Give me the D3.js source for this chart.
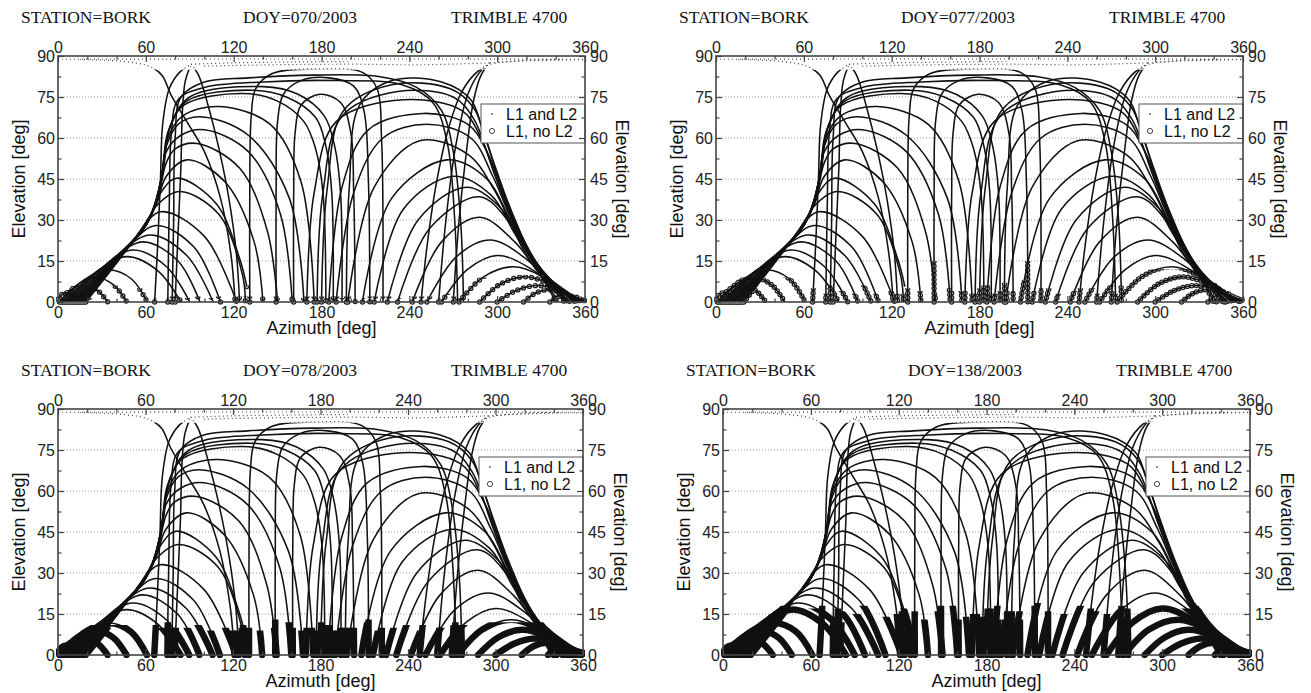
<!DOCTYPE html>
<html><head><meta charset="utf-8">
<script src="https://cdn.jsdelivr.net/npm/d3@7"></script>
<style>body{margin:0;background:#fff}svg{display:block}</style>
</head><body>
<svg id="c" width="1311" height="693"></svg>
<script>
// ---------- data ----------
const station = "STATION=BORK";
const receiver = "TRIMBLE 4700";
const doys = ["070/2003", "077/2003", "078/2003", "138/2003"];
const legendLabels = ["L1 and L2", "L1, no L2"];
const azTicks = [0, 60, 120, 180, 240, 300, 360];
const azMinorTicks = [20, 40, 80, 100, 140, 160, 200, 220, 260, 280, 320, 340];
const elTicks = [0, 15, 30, 45, 60, 75, 90];
const elMinorTicks = [7.5, 22.5, 37.5, 52.5, 67.5, 82.5];

// satellite tracks, [azimuth, elevation] in degrees
const tracks = [
  [[0,1],[3,3],[6,3.5],[10,2.5],[14,0]],
  [[1,0],[8,4.2],[17,6],[27,4.2],[34,0]],
  [[2,0],[13,6.3],[26,9],[38,6.3],[47,0]],
  [[3,0],[18,8.2],[35,11.7],[50,8.5],[61,0]],
  [[4,0],[26,11],[47,16.6],[68,11.5],[84,0]],
  [[5,0],[30,12.5],[51,19],[74,13],[90,0]],
  [[6,0],[36,15],[58,22],[82,15],[97,0]],
  [[7,0],[40,17],[63,24.5],[88,17],[106,0]],
  [[8,0],[46,19.5],[67,28],[93,20],[111,0]],
  [[9,0],[52,23],[70,33],[100,24],[122,0]],
  [[10,0],[58,26.3],[67,35],[83,40.4],[110,32],[126,10],[128,0]],
  [[11,0],[60,28],[69,39],[81,45.3],[108,36],[124,16],[129,5.6]],
  [[12,0],[38,15.5],[58,26.3],[67.4,36],[74,46],[88,52],[114,44],[134,22],[140,0]],
  [[13,0],[40,16.3],[60,28],[69,40],[74,51],[80,56],[95,58],[124,49],[143,26],[150,0]],
  [[14,0],[42,17],[61,29],[70,43],[74,55],[84,61],[100,63],[130,55],[152,32],[160,0]],
  [[15,0],[44,18],[62,30],[70,44],[74,57],[82,65],[97,67.8],[130,61],[158,38],[168,0]],
  [[16,0],[46,19],[63,31],[71,46],[75,60],[85,68],[110,71.5],[145,65],[166,44],[175,0]],
  [[17,0],[47,19.5],[64,32],[71,47],[75,62],[86,72],[126,76.3],[150,73.5],[168,66],[176,56],[181,40],[183,0]],
  [[18,0],[48,20],[64.5,33],[71.5,48],[76,63],[88,73.5],[132,77.5],[156,75],[176,67.5],[183,57],[187,40],[188,0]],
  [[19,0],[48,20],[65,34],[72,49],[76.5,64],[90,75],[140,78.8],[164,76],[182,68],[189,57],[193,40],[194,0]],
  [[15,88.7],[45,88],[62,86.3],[71,83],[77,76],[88,66],[100,55],[111,38],[118,18],[121,0]],
  [[66,0],[68,20],[70,45],[71.5,65],[76,78],[83,84],[91,87]],
  [[80,0],[82,25],[84,50],[85,70],[87,81],[91,87]],
  [[91,87],[96,83],[103,71],[110,56],[117,37],[122,17],[124,0]],
  [[91,87],[120,87.5],[160,87.8],[200,88]],
  [[0,88.8],[90,88.9],[180,88.9],[270,88.9],[360,88.8]],
  [[100,86.3],[150,86.8],[200,87],[250,86.8],[295,87.5]],
  [[78,0],[79,30],[80,60],[84,75],[100,80.5],[130,82],[174,83],[220,82.4],[245,78.5],[262,70],[270,55],[275,30],[277,0]],
  [[75,0],[76,35],[77.5,62],[82,74],[100,78.5],[140,80.5],[190,81],[235,79.5],[256,73],[266,58],[271,30],[273,0]],
  [[131,0],[131,40],[132,68],[135,78],[146,83.5],[178,85.3],[208,84],[218,78],[221,60],[222,30],[222,0]],
  [[149,0],[149,40],[150,66],[154,76],[166,81],[185,82],[202,79],[209,70],[212,45],[213,0]],
  [[161,0],[161,40],[162,62],[166,72],[179,76],[193,73],[200,62],[202,40],[203,0]],
  [[336,0],[341,2.2],[347,3],[353,2],[359,0.5]],
  [[318,0],[326,3.2],[335,4.5],[345,3.2],[356,0.3]],
  [[300,0],[313,4.2],[327,6],[341,4.5],[355,0]],
  [[288,0],[302,6.5],[318,9.2],[334,7],[353,0]],
  [[274,0],[291,9.3],[311,12.9],[330,9.5],[352,0]],
  [[262,0],[280,12],[300,17],[322,12.5],[350,0]],
  [[252,0],[272,16.5],[295,22.7],[318,16.5],[348,0]],
  [[242,0],[262,22],[288,31],[312,22],[328,11],[346,0]],
  [[232,0],[254,27],[288,38.5],[310,28],[326,14],[344,2],[347,0]],
  [[225,0],[246,30],[279,42],[303,34],[318,19],[334,6],[340,0]],
  [[216,0],[236,34],[270,46],[296,39],[312,25],[330,10],[342,0]],
  [[208,0],[228,38],[265.5,52],[293,45],[309,30],[326,14],[345,2],[349,0]],
  [[198,0],[216,42],[247,59],[280,54],[298,41],[312,26],[330,11],[350,1.5],[354,0]],
  [[190,0],[202,40],[222,60],[252,65],[282,60],[297,46],[310,30],[328,13],[350,2],[356,0]],
  [[185,0],[194,42],[212,63],[249.6,69],[280,65],[293,55],[304,40],[318,22],[336,8],[358,0]],
  [[170,0],[175,40],[190,66],[236,74],[276,70],[289,60],[298,47],[310,31],[327,13],[350,3],[359,0]],
  [[177,0],[181,40],[194,68],[232,77],[270,75],[284,67],[293,55],[303,40],[318,21],[340,6],[359,0.5]],
  [[180,0],[184,42],[195,70],[228,79.5],[268,78],[284,71],[292,60],[301,45],[314,27],[333,10],[355,1],[360,0.5]],
  [[197,0],[199,42],[206,72],[228,81],[262,80.5],[282,74],[290,63],[299,49],[310,33],[326,15],[348,3],[360,0.8]],
  [[270,0],[274,30],[279,55],[284,74],[289,83],[295,87.5]],
  [[260,0],[265,30],[272,58],[280,76],[288,84],[295,87.5]],
  [[295,87.5],[320,88.2],[350,88.6],[360,88.7]],
  [[248,0],[252,20],[258,42],[266,62],[275,76],[284,83],[293,86.5],[315,88.3],[345,88.7]]
];

// highest elevation (deg) of the "L1, no L2" part of each track, one list per day
const noL2_070 = [4,5,6,5, 2,1.5,2,1.5,2,1.5, 2,6,2,1.5,2,1.5,2,1.5,2,1.5,
  2,1.5,2,2,0, 0,0, 2,1.5, 2,2,1.5,
  3,5,8,10,9,3,2, 2,1.5,2,2,1.5,2,2,1.5,2,1.5,2,2,
  2,1.5,0,2];
const noL2_077 = [6,7,9,9, 5,4,3,6,3,4, 3,6,4,3,5,4,3,6,3,4,
  3,5,4,3,0, 0,0, 6,3, 5,15,4,
  5,6,8,12,12,6,5, 4,3,5,4,8,4,3,6,4,3,5,7,
  4,3,0,5];
const noL2_078 = [8,10,11,11, 10,9,10,11,9,10, 10,11,9,10,12,9,10,11,9,10,
  9,11,10,9,0, 0,0, 10,12, 10,13,10,
  6,8,10,11,12,11,10, 9,11,10,9,12,10,9,11,10,9,12,10,
  11,10,0,11];
const noL2_138 = [10,13,16,18, 18,17,16,15,18,14, 15,17,13,16,18,14,15,17,13,16,
  15,18,12,16,0, 0,0, 17,14, 16,18,13,
  6,10,14,18,20,19,17, 16,18,15,14,19,16,13,18,15,14,17,16,
  18,15,0,17];
const noL2 = [noL2_070, noL2_077, noL2_078, noL2_138];

// ---------- layout ----------
const layout = [
  {x: 58, y: 56, w: 527, h: 246, mark: {type: "ring", gap: 6}},
  {x: 716, y: 56, w: 527, h: 246, mark: {type: "ring", gap: 4.5}},
  {x: 58, y: 409, w: 525, h: 246, mark: {type: "solid"}},
  {x: 723, y: 409, w: 527, h: 246, mark: {type: "solid"}}
];
const sans = "'Liberation Sans', Arial, sans-serif";
const serif = "'Liberation Serif', 'Times New Roman', serif";

const svg = d3.select("#c");
const line = d3.line().curve(d3.curveCatmullRom.alpha(0.5));

layout.forEach((L, pi) => {
  const x = d3.scaleLinear().domain([0, 360]).range([0, L.w]);
  const y = d3.scaleLinear().domain([0, 90]).range([L.h, 0]);
  const g = svg.append("g").attr("transform", `translate(${L.x},${L.y})`);
  const defs = g.append("defs");
  const id = "p" + pi;
  const pathD = t => line(t.map(d => [x(d[0]), y(d[1])]));

  defs.append("clipPath").attr("id", id + "hi").append("rect")
    .attr("x", 0).attr("y", 0).attr("width", L.w).attr("height", y(85));
  defs.append("clipPath").attr("id", id + "lo").append("rect")
    .attr("x", 0).attr("y", y(85)).attr("width", L.w).attr("height", L.h - y(85));

  // titles
  const tg = svg.append("g").attr("font-family", serif).attr("font-size", 17.5).attr("fill", "#111");
  tg.append("text").attr("x", L.x - 37).attr("y", L.y - 33).text(station);
  tg.append("text").attr("x", L.x + 185).attr("y", L.y - 33).text("DOY=" + doys[pi]);
  tg.append("text").attr("x", L.x + 393).attr("y", L.y - 33).text(receiver);

  // grid
  g.append("g").selectAll("line").data(elTicks.filter(v => v > 0 && v < 90)).join("line")
    .attr("x1", 0).attr("x2", L.w).attr("y1", d => y(d)).attr("y2", d => y(d))
    .attr("stroke", "#9a9a9a").attr("stroke-width", 1).attr("stroke-dasharray", "1,2");

  // L1-no-L2 segments
  const th = noL2[pi];
  tracks.forEach((t, i) => {
    if (!th[i]) return;
    defs.append("clipPath").attr("id", `${id}n${i}`).append("rect")
      .attr("x", -2).attr("y", y(th[i])).attr("width", L.w + 4).attr("height", L.h - y(th[i]) + 3);
  });
  const markLayer = (color, width, dash) => {
    const lg = g.append("g");
    tracks.forEach((t, i) => {
      if (!th[i]) return;
      const p = lg.append("path").attr("d", pathD(t)).attr("fill", "none")
        .attr("stroke", color).attr("stroke-width", width).attr("stroke-linecap", "round")
        .attr("stroke-linejoin", "round").attr("clip-path", `url(#${id}n${i})`);
      if (dash) p.attr("stroke-dasharray", dash);
    });
  };
  if (L.mark.type === "ring") {
    markLayer("#222", 5.4, "0," + L.mark.gap);
    markLayer("#fff", 2.8, "0," + L.mark.gap);
  } else {
    markLayer("#111", 6.5, null);
  }

  // tracks (L1 and L2)
  const trg = g.append("g").attr("fill", "none");
  trg.selectAll("path.lo").data(tracks).join("path").attr("class", "lo")
    .attr("d", pathD).attr("stroke", "#111").attr("stroke-width", 1.55)
    .attr("clip-path", `url(#${id}lo)`);
  trg.selectAll("path.hi").data(tracks).join("path").attr("class", "hi")
    .attr("d", pathD).attr("stroke", "#444").attr("stroke-width", 1.2)
    .attr("stroke-dasharray", "1,3").attr("clip-path", `url(#${id}hi)`);

  // legend
  const lg = g.append("g").attr("transform", `translate(${L.w - 104},48)`);
  lg.append("rect").attr("width", 104).attr("height", 39).attr("fill", "#fff")
    .attr("stroke", "#555").attr("stroke-width", 1);
  lg.append("circle").attr("cx", 11).attr("cy", 10).attr("r", 1).attr("fill", "#666");
  lg.append("circle").attr("cx", 11).attr("cy", 27).attr("r", 2.6).attr("fill", "none")
    .attr("stroke", "#444").attr("stroke-width", 1);
  lg.selectAll("text").data(legendLabels).join("text")
    .attr("x", 25).attr("y", (d, i) => 15.5 + i * 17)
    .attr("font-family", sans).attr("font-size", 16).attr("fill", "#111").text(d => d);

  // frame
  g.append("rect").attr("width", L.w).attr("height", L.h).attr("fill", "none")
    .attr("stroke", "#444").attr("stroke-width", 1.6);

  // axes
  const style = sel => {
    sel.select(".domain").remove();
    sel.selectAll("line").attr("stroke", "#444").attr("stroke-width", 1.2);
    sel.selectAll("text").attr("font-family", sans).attr("font-size", 16).attr("fill", "#222");
  };
  g.append("g").call(d3.axisLeft(y).tickValues(elTicks).tickSizeInner(-6).tickSizeOuter(0).tickPadding(3)).call(style);
  g.append("g").call(d3.axisLeft(y).tickValues(elMinorTicks).tickSizeInner(-3.5).tickSizeOuter(0).tickFormat("")).call(style);
  g.append("g").attr("transform", `translate(${L.w},0)`)
    .call(d3.axisRight(y).tickValues(elTicks).tickSizeInner(-6).tickSizeOuter(0).tickPadding(5)).call(style);
  g.append("g").attr("transform", `translate(${L.w},0)`)
    .call(d3.axisRight(y).tickValues(elMinorTicks).tickSizeInner(-3.5).tickSizeOuter(0).tickFormat("")).call(style);
  g.append("g").call(d3.axisTop(x).tickValues(azTicks).tickSizeInner(-6).tickSizeOuter(0).tickPadding(3)).call(style);
  g.append("g").call(d3.axisTop(x).tickValues(azMinorTicks).tickSizeInner(-3.5).tickSizeOuter(0).tickFormat("")).call(style);
  g.append("g").attr("transform", `translate(0,${L.h})`)
    .call(d3.axisBottom(x).tickValues(azTicks).tickSizeInner(-6).tickSizeOuter(0).tickPadding(5)).call(style);
  g.append("g").attr("transform", `translate(0,${L.h})`)
    .call(d3.axisBottom(x).tickValues(azMinorTicks).tickSizeInner(-3.5).tickSizeOuter(0).tickFormat("")).call(style);

  // axis titles
  const at = g.append("g").attr("font-family", sans).attr("font-size", 18).attr("fill", "#111").attr("text-anchor", "middle");
  at.append("text").attr("transform", `translate(-33,${L.h / 2}) rotate(-90)`).text("Elevation [deg]");
  at.append("text").attr("transform", `translate(${L.w + 31},${L.h / 2}) rotate(90)`).text("Elevation [deg]");
  at.append("text").attr("x", L.w / 2).attr("y", L.h + 32).text("Azimuth [deg]");
});
</script>
</body></html>
